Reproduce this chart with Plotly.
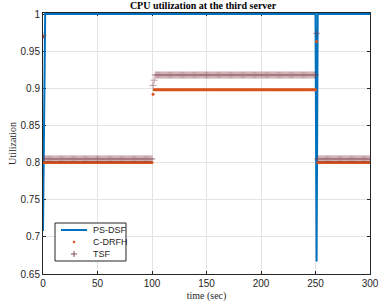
import plotly.graph_objects as go

# ---- data ----
# PS-DSF (line)
psdsf_t = [0, 2, 250, 251, 252, 300]
psdsf_u = [0.708, 1.0, 1.0, 0.667, 1.0, 1.0]

# C-DRFH and TSF are sampled every second; values per phase
time_s = list(range(0, 301))
cdrfh_start = [0.970]          # t = 0
cdrfh_low1 = 0.800             # t = 1..100
cdrfh_step = [0.892]           # t = 101
cdrfh_high = 0.898             # t = 102..250
cdrfh_spike = [0.963]          # t = 251
cdrfh_low2 = 0.800             # t = 252..300

tsf_start = [0.971]            # t = 0
tsf_low1 = 0.805               # t = 1..100
tsf_step = [0.904, 0.911]      # t = 101, 102
tsf_high = 0.918               # t = 103..250
tsf_spike = [0.974]            # t = 251
tsf_low2 = 0.805               # t = 252..300

cdrfh_u = (cdrfh_start + [cdrfh_low1] * 100 + cdrfh_step + [cdrfh_high] * 149
           + cdrfh_spike + [cdrfh_low2] * 49)
tsf_u = (tsf_start + [tsf_low1] * 100 + tsf_step + [tsf_high] * 148
         + tsf_spike + [tsf_low2] * 49)

x_ticks = [0, 50, 100, 150, 200, 250, 300]
y_ticks = [0.65, 0.7, 0.75, 0.8, 0.85, 0.9, 0.95, 1]
y_tick_text = ["0.65", "0.7", "0.75", "0.8", "0.85", "0.9", "0.95", "1"]
legend_names = ["PS-DSF", "C-DRFH", "TSF"]

C_BLUE, C_ORANGE, C_TSF = "#0072BD", "#D95319", "#7d3540"

fig = go.Figure()
fig.add_trace(go.Scatter(x=psdsf_t, y=psdsf_u, mode="lines", name=legend_names[0],
                         line=dict(color=C_BLUE, width=2), showlegend=False))
fig.add_trace(go.Scatter(x=time_s, y=cdrfh_u, mode="markers", name=legend_names[1],
                         marker=dict(color=C_ORANGE, size=3, symbol="circle",
                                     line=dict(width=0)), showlegend=False))
fig.add_trace(go.Scatter(x=time_s, y=tsf_u, mode="markers", name=legend_names[2],
                         marker=dict(color=C_TSF, size=5, symbol="cross-thin",
                                     line=dict(color=C_TSF, width=0.7)),
                         opacity=0.68, showlegend=False))

axis_common = dict(showgrid=True, gridcolor="#e3e3e3", gridwidth=1,
                   showline=True, linecolor="#262626", linewidth=1,
                   mirror="ticks", ticks="inside", ticklen=3, tickcolor="#262626",
                   zeroline=False, layer="below traces", automargin=False,
                   tickfont=dict(family="Liberation Sans", size=10, color="#262626"))

fig.update_xaxes(range=[0, 300], tickvals=x_ticks,
                 title=dict(text="time (sec)", standoff=3,
                            font=dict(family="Liberation Serif", size=10, color="#262626")),
                 **axis_common)
fig.update_yaxes(range=[0.65, 1.0015], tickvals=y_ticks, ticktext=y_tick_text,
                 title=dict(text="Utilization", standoff=2,
                            font=dict(family="Liberation Serif", size=10, color="#262626")),
                 **axis_common)

# ---- manual compact legend (paper coordinates of the plot area) ----
L, T, R, B = 0.0367, 0.1954, 0.2538, 0.0498
row_y = [0.1686, 0.1226, 0.0766]
sym_x = 0.0948
text_x = 0.1468
dx, dy = 1 / 327, 1 / 261
shapes = [
    dict(type="rect", xref="paper", yref="paper", x0=L, x1=R, y0=B, y1=T,
         line=dict(color="#262626", width=1), fillcolor="white", layer="above"),
    dict(type="line", xref="paper", yref="paper", x0=0.055, x1=0.1346,
         y0=row_y[0], y1=row_y[0], line=dict(color=C_BLUE, width=2), layer="above"),
    dict(type="circle", xref="paper", yref="paper", x0=sym_x - 1.3 * dx, x1=sym_x + 1.3 * dx,
         y0=row_y[1] - 1.3 * dy, y1=row_y[1] + 1.3 * dy,
         line=dict(width=0), fillcolor=C_ORANGE, layer="above"),
    dict(type="line", xref="paper", yref="paper", x0=sym_x - 3 * dx, x1=sym_x + 3 * dx,
         y0=row_y[2], y1=row_y[2], line=dict(color="#8a4a52", width=1), layer="above"),
    dict(type="line", xref="paper", yref="paper", x0=sym_x, x1=sym_x,
         y0=row_y[2] - 3 * dy, y1=row_y[2] + 3 * dy,
         line=dict(color="#8a4a52", width=1), layer="above"),
]
annotations = [
    dict(xref="paper", yref="paper", x=text_x, y=yy, text=name, showarrow=False,
         xanchor="left", yanchor="middle",
         font=dict(family="Liberation Sans", size=9, color="#262626"))
    for name, yy in zip(legend_names, row_y)
]

fig.update_layout(
    width=381, height=306,
    margin=dict(l=43, r=11, t=13, b=32),
    paper_bgcolor="white", plot_bgcolor="white",
    title=dict(text="<b>CPU utilization at the third server</b>", x=0.533, xanchor="center",
               y=0.993, yanchor="top",
               font=dict(family="Liberation Serif", size=10, color="black")),
    showlegend=False,
    shapes=shapes,
    annotations=annotations,
)

fig.write_html("out.html", config={"displayModeBar": False},
               post_script="document.body.style.margin='0';document.body.style.overflow='hidden';")
